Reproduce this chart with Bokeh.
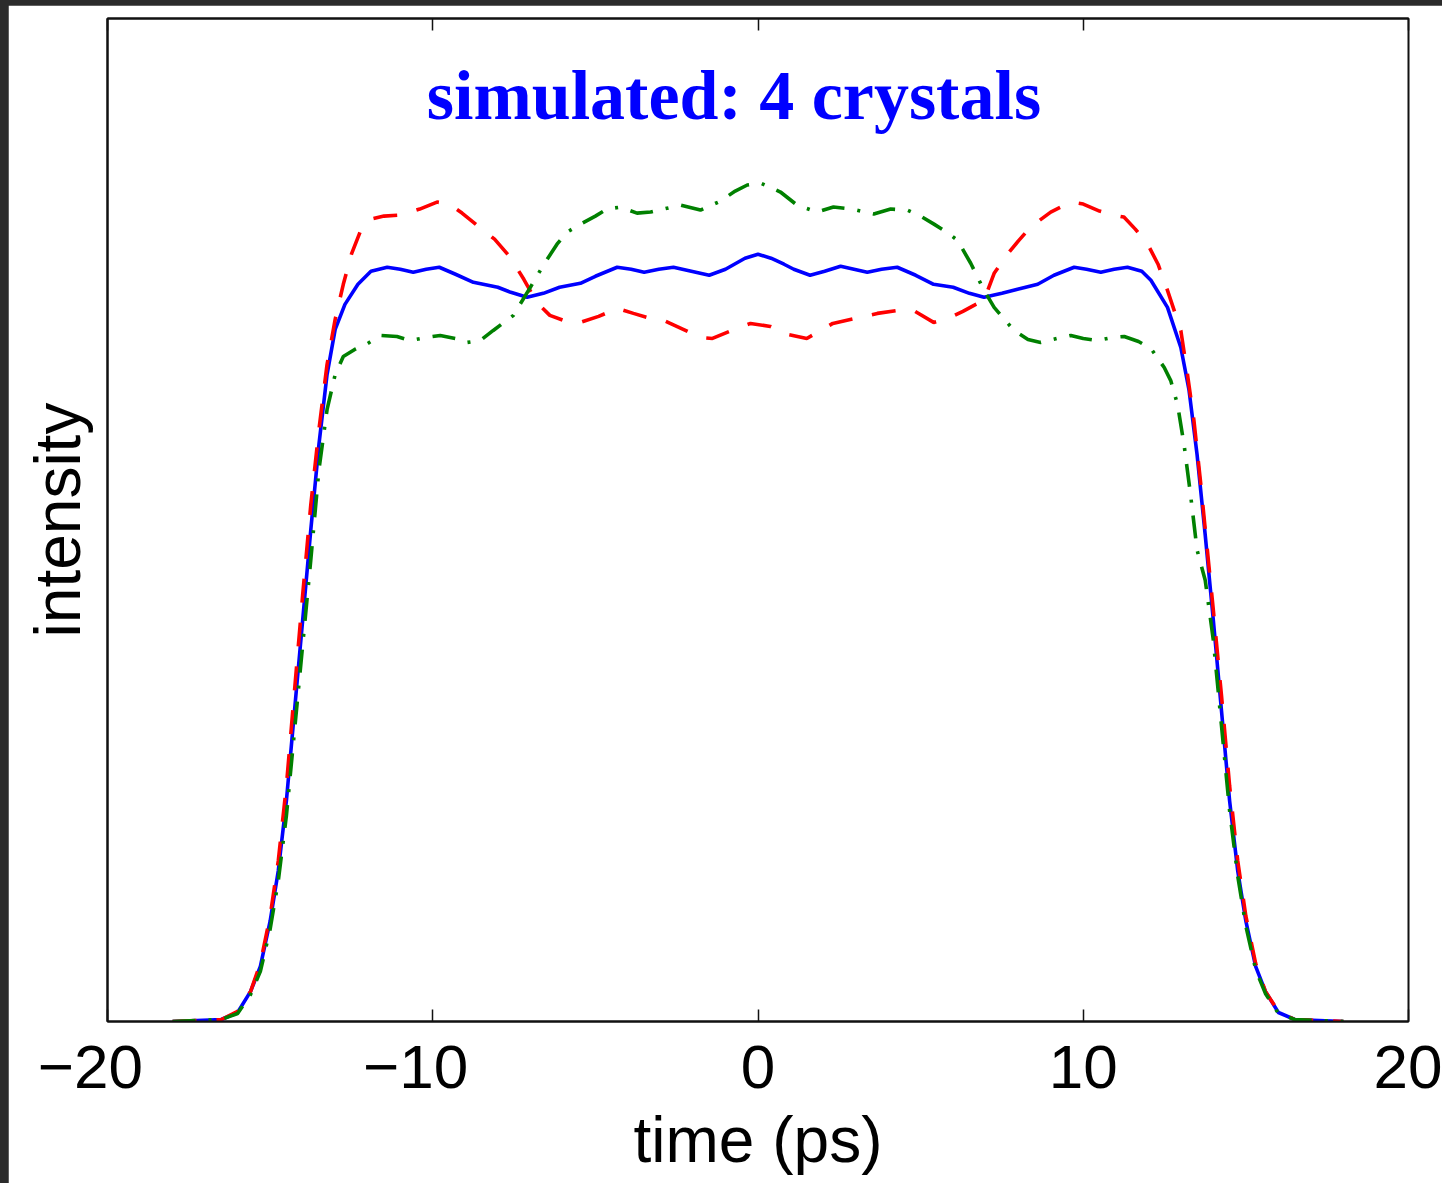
from bokeh.plotting import figure
from bokeh.layouts import column, row
from bokeh.models import Range1d, LinearAxis, FixedTicker, Label, Spacer
from bokeh.embed import file_html
from bokeh.resources import INLINE

# ---- data ----
blue_t = [-18.0, -16.5, -16.0, -15.6, -15.3, -15.0, -14.75, -14.5, -14.25, -14.0, -13.75, -13.5, -13.25,
          -13.0, -12.7, -12.3, -11.9, -11.4, -11.0, -10.6, -10.2, -9.8, -9.3, -8.75, -8.0, -7.6, -7.1,
          -6.6, -6.1, -5.46, -5.0, -4.33, -3.9, -3.5, -3.05, -2.6, -2.05, -1.5, -1.0, -0.4, 0.0, 0.4,
          0.8, 1.1, 1.6, 2.05, 2.54, 2.95, 3.36, 3.8, 4.28, 4.85, 5.4, 6.0, 6.5, 6.95, 7.5, 7.98, 8.6,
          9.1, 9.72, 10.1, 10.54, 10.95, 11.36, 11.8, 12.08, 12.59, 13.0, 13.25, 13.5, 13.75, 14.0,
          14.25, 14.5, 14.75, 15.0, 15.3, 15.6, 16.0, 16.5, 18.0]
blue_v = [0.0, 0.002, 0.009, 0.03, 0.055, 0.10, 0.15, 0.22, 0.31, 0.40, 0.49, 0.575, 0.645,
          0.69, 0.715, 0.735, 0.748, 0.752, 0.750, 0.747, 0.750, 0.752, 0.745, 0.737, 0.732, 0.727, 0.722,
          0.726, 0.732, 0.736, 0.743, 0.752, 0.750, 0.747, 0.750, 0.752, 0.748, 0.744, 0.750, 0.761, 0.765, 0.761,
          0.755, 0.750, 0.744, 0.748, 0.753, 0.750, 0.747, 0.750, 0.752, 0.744, 0.735, 0.732, 0.726, 0.722, 0.726, 0.730, 0.735,
          0.744, 0.752, 0.750, 0.747, 0.750, 0.752, 0.748, 0.739, 0.712, 0.672, 0.63, 0.565, 0.485, 0.40,
          0.31, 0.22, 0.15, 0.10, 0.055, 0.03, 0.009, 0.002, 0.0]

red_t = [-18.0, -16.5, -16.0, -15.6, -15.3, -15.0, -14.75, -14.5, -14.25, -14.0, -13.75, -13.5, -13.25,
         -13.0, -12.75, -12.5, -12.2, -11.9, -11.5, -11.0, -10.4, -9.87, -9.5, -9.1, -8.64, -8.1, -7.62,
         -7.2, -6.8, -6.4, -5.98, -5.46, -4.9, -4.33, -3.83, -3.3, -2.9, -2.3, -1.77, -1.4, -0.8, -0.23,
         0.38, 0.9, 1.5, 2.3, 3.0, 3.67, 4.3, 4.78, 5.4, 5.92, 6.3, 6.64, 6.95, 7.26, 7.67, 8.0, 8.38,
         9.0, 9.62, 10.0, 10.5, 10.94, 11.25, 11.6, 11.98, 12.3, 12.59, 13.0, 13.2, 13.4, 13.6, 13.8,
         14.0, 14.25, 14.5, 14.75, 15.0, 15.3, 15.6, 16.0, 16.5, 18.0]
red_v = [0.0, 0.002, 0.01, 0.03, 0.058, 0.105, 0.16, 0.235, 0.33, 0.425, 0.515, 0.59, 0.655,
         0.70, 0.735, 0.765, 0.79, 0.80, 0.803, 0.804, 0.810, 0.817, 0.815, 0.806, 0.794, 0.78, 0.762,
         0.74, 0.717, 0.704, 0.699, 0.697, 0.703, 0.711, 0.706, 0.701, 0.699, 0.69, 0.682, 0.681, 0.689, 0.696,
         0.693, 0.685, 0.681, 0.696, 0.701, 0.706, 0.709, 0.709, 0.697, 0.702, 0.708, 0.714, 0.719, 0.746, 0.765, 0.778, 0.792,
         0.807, 0.817, 0.815, 0.808, 0.804, 0.802, 0.79, 0.775, 0.755, 0.729, 0.689, 0.646, 0.60, 0.54, 0.475,
         0.41, 0.325, 0.235, 0.16, 0.105, 0.058, 0.03, 0.01, 0.002, 0.0]

green_t = [-18.0, -16.5, -16.0, -15.6, -15.3, -15.0, -14.75, -14.5, -14.25, -14.0, -13.75, -13.5, -13.25,
           -13.0, -12.75, -12.4, -12.0, -11.6, -11.1, -10.7, -10.2, -9.77, -9.3, -8.95, -8.54, -8.14, -7.52,
           -7.0, -6.6, -6.18, -5.87, -5.46, -5.0, -4.64, -4.23, -3.72, -3.3, -2.9, -2.38, -1.77, -1.15, -0.7,
           -0.33, 0.08, 0.69, 1.2, 1.82, 2.32, 2.9, 3.56, 4.08, 4.59, 5.0, 5.41, 5.8, 6.13, 6.54, 6.95, 7.26,
           7.87, 8.3, 8.69, 9.2, 9.62, 10.0, 10.44, 10.9, 11.26, 11.7, 12.08, 12.49, 12.69, 12.9, 13.1, 13.3,
           13.5, 13.75, 14.0, 14.25, 14.5, 14.75, 15.0, 15.3, 15.6, 16.0, 16.5, 18.0]
green_v = [0.0, 0.002, 0.008, 0.027, 0.05, 0.092, 0.14, 0.205, 0.29, 0.375, 0.46, 0.55, 0.61,
           0.645, 0.663, 0.670, 0.676, 0.684, 0.683, 0.679, 0.682, 0.684, 0.681, 0.677, 0.679, 0.689, 0.704,
           0.732, 0.754, 0.775, 0.787, 0.795, 0.803, 0.81, 0.812, 0.806, 0.807, 0.81, 0.814, 0.809, 0.818, 0.828,
           0.834, 0.836, 0.827, 0.814, 0.807, 0.812, 0.81, 0.805, 0.81, 0.809, 0.803, 0.795, 0.787, 0.779, 0.756, 0.729, 0.712,
           0.689, 0.68, 0.677, 0.681, 0.684, 0.681, 0.679, 0.682, 0.683, 0.678, 0.671, 0.652, 0.639, 0.615, 0.575, 0.525,
           0.47, 0.44, 0.38, 0.295, 0.21, 0.145, 0.095, 0.052, 0.028, 0.008, 0.002, 0.0]

x_ticks = [-20, -10, 0, 10, 20]
# negative labels: digits centred on the tick, minus sign hanging to the left
x_tick_labels = {-20: "\u221220\u00a0\u00a0", -10: "\u221210\u00a0\u00a0", 0: "0", 10: "10", 20: "20"}
title_text = "simulated: 4 crystals"
x_label = "time (ps)"
y_label = "intensity"

FONT = "Liberation Sans"
DARK = "#2b2b2b"

p = figure(width=1434, height=1178, output_backend="svg", toolbar_location=None,
           x_range=Range1d(-20, 20), y_range=Range1d(0, 1.0),
           min_border_left=99, min_border_right=34, min_border_top=13, min_border_bottom=162)
p.background_fill_color = "white"
p.border_fill_color = "white"
p.outline_line_color = "#111111"
p.outline_line_width = 2
p.xgrid.visible = False
p.ygrid.visible = False

# bottom axis
xa = p.xaxis[0]
xa.ticker = FixedTicker(ticks=x_ticks)
xa.major_label_overrides = x_tick_labels
xa.major_tick_in = 12
xa.major_tick_out = 0
xa.minor_tick_line_color = None
xa.major_tick_line_color = "#111111"
xa.major_tick_line_width = 1.5
xa.axis_line_color = "#111111"
xa.axis_line_width = 2
xa.major_label_text_font = FONT
xa.major_label_text_font_size = "62px"
xa.major_label_text_color = "black"
xa.major_label_standoff = 10
xa.axis_label = x_label
xa.axis_label_text_font = FONT
xa.axis_label_text_font_size = "64px"
xa.axis_label_text_font_style = "normal"
xa.axis_label_text_color = "black"
xa.axis_label_standoff = 0

# left axis: no ticks
ya = p.yaxis[0]
ya.ticker = FixedTicker(ticks=[])
ya.major_tick_line_color = None
ya.minor_tick_line_color = None
ya.axis_line_color = "#111111"
ya.axis_line_width = 2
ya.axis_label = y_label
ya.axis_label_text_font = FONT
ya.axis_label_text_font_size = "64px"
ya.axis_label_text_font_style = "normal"
ya.axis_label_text_color = "black"
ya.axis_label_standoff = 14

# top axis with inward ticks, no labels
top = LinearAxis(ticker=FixedTicker(ticks=x_ticks), major_tick_in=12, major_tick_out=0,
                 minor_tick_line_color=None,
                 major_label_overrides={t: "" for t in x_ticks},
                 major_tick_line_color="#111111", major_tick_line_width=1.5,
                 axis_line_color="#111111", axis_line_width=2)
p.add_layout(top, "above")

p.line(blue_t, blue_v, line_color="#0000ff", line_width=3.6)
p.line(red_t, red_v, line_color="#ff0000", line_width=3.6, line_dash="24 20")
p.line(green_t, green_v, line_color="#008000", line_width=3.6, line_dash="23 13 3 13")

title = Label(x=-0.74, y=0.923, text=title_text, text_align="center", text_baseline="alphabetic",
              text_font="Liberation Serif", text_font_style="bold", text_font_size="70px",
              text_color="#0000ff")
p.add_layout(title)

top_strip = Spacer(width=1442, height=5, styles={"background-color": DARK})
left_strip = Spacer(width=8, height=1178, styles={"background-color": DARK})
page = column(top_strip, row(left_strip, p, spacing=0), spacing=0,
              styles={"background-color": DARK})

open("out.html", "w").write(file_html(page, INLINE))
